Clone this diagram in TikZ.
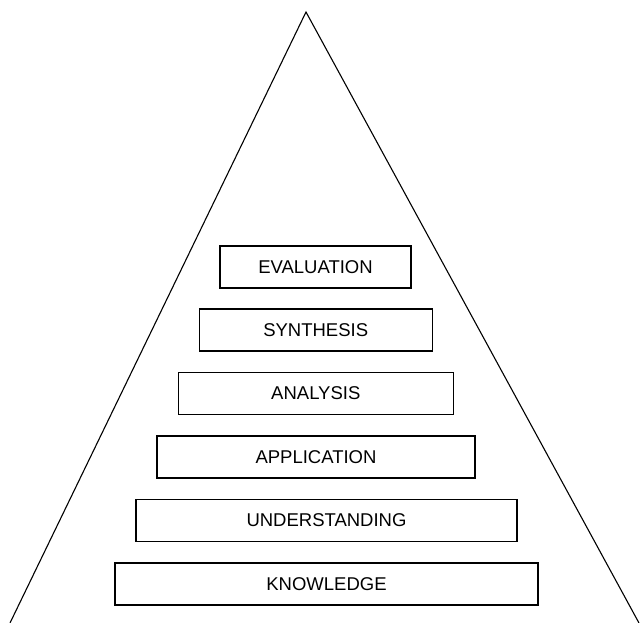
\documentclass[tikz,border=0pt]{standalone}
\usepackage{fontspec}
\setmainfont{Liberation Sans}
\usepackage{tikz}

\begin{document}
\begin{tikzpicture}[x=1pt, y=-1pt,
    level/.style={draw, line width=1.2pt, minimum height=42pt, inner sep=0pt,
      font=\fontsize{18.5}{22}\selectfont}]
			%%%%% START %%%%%
			
			\useasboundingbox (0, 0) rectangle (641, 623);
			
			\draw[line width=1.1pt] (10, 623) -- (306, 12) -- (639, 623);
			
			\node[level, minimum width=191pt] (evaluation) at (315.5, 267) {EVALUATION};
			\node[level, minimum width=233pt] (synthesis) at (315.7, 330) {SYNTHESIS};
			\node[level, minimum width=275pt] (analysis) at (315.8, 393.5) {ANALYSIS};
			\node[level, minimum width=318pt] (application) at (316, 457) {APPLICATION};
			\node[level, minimum width=381pt] (understanding) at (326.5, 520.5) {UNDERSTANDING};
			\node[level, minimum width=423pt] (knowledge) at (326.5, 584) {KNOWLEDGE};
			
			%%%%% END %%%%%
		\end{tikzpicture}
\end{document}
